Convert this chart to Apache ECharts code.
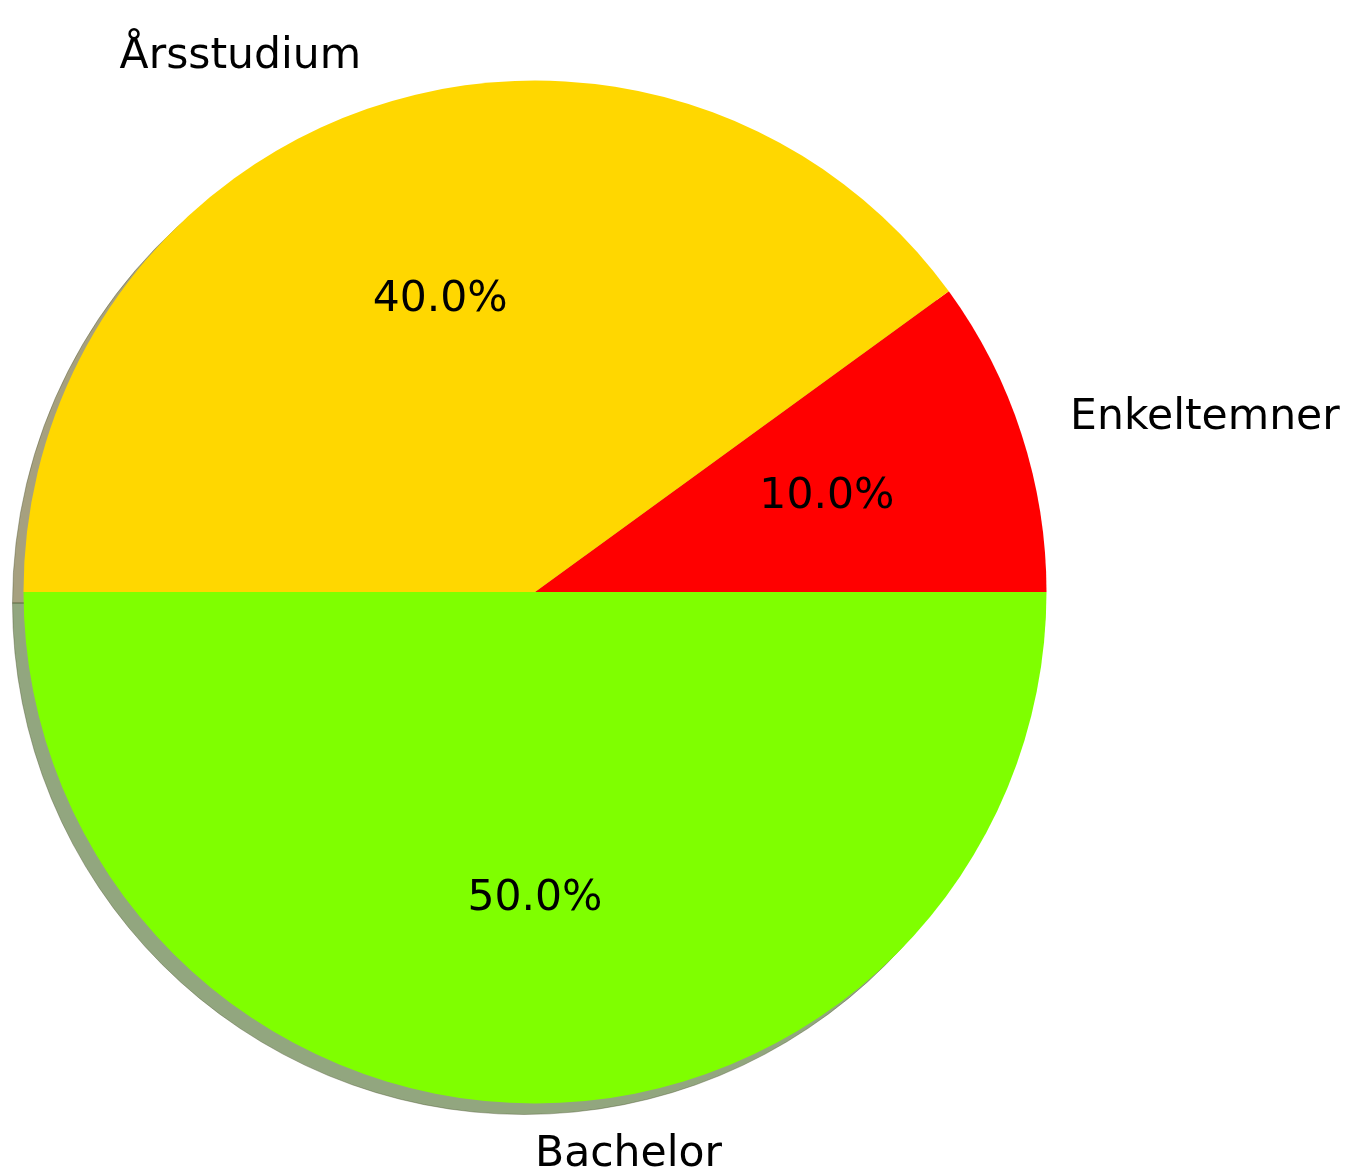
<!DOCTYPE html>
<html>
<head>
<meta charset="utf-8">
<script src="https://cdn.jsdelivr.net/npm/echarts@6/dist/echarts.min.js"></script>
<style>html,body{margin:0;padding:0;background:#fff;}#c{width:1347px;height:1172px;}</style>
</head>
<body>
<div id="c"></div>
<script>
const categories = ['Enkeltemner', 'Årsstudium', 'Bachelor'];
const values = [10, 40, 50];
const colors = ['#FF0000', '#FFD700', '#7FFF00'];
const shadowColors = ['rgba(77,0,0,0.5)', 'rgba(77,65,0,0.5)', 'rgba(38,77,0,0.5)'];

const CX = 535, CY = 592, R = 511.5;
const SHADOW_DX = -11, SHADOW_DY = 11;
const FONT = 'DejaVu Sans';
const FS = 42.5;

const total = values.reduce((a, b) => a + b, 0);
function midAngle(i) {
  let before = 0;
  for (let k = 0; k < i; k++) before += values[k];
  return (before + values[i] / 2) / total * 2 * Math.PI;
}

const chart = echarts.init(document.getElementById('c'), null, {renderer: 'canvas'});

const baseData = categories.map((n, i) => ({name: n, value: values[i]}));

chart.setOption({
  animation: false,
  backgroundColor: '#ffffff',
  series: [
    {
      type: 'pie',
      silent: true,
      center: [CX + SHADOW_DX, CY + SHADOW_DY],
      radius: R,
      startAngle: 0,
      clockwise: false,
      avoidLabelOverlap: false,
      label: {show: false},
      labelLine: {show: false},
      emphasis: {disabled: true},
      data: baseData.map((d, i) => ({...d, itemStyle: {color: shadowColors[i], borderWidth: 1, borderColor: 'rgba(60,70,30,0.35)'}}))
    },
    {
      type: 'pie',
      silent: true,
      center: [CX, CY],
      radius: R,
      startAngle: 0,
      clockwise: false,
      avoidLabelOverlap: false,
      emphasis: {disabled: true},
      labelLine: {show: false},
      label: {
        show: true,
        position: 'outside',
        formatter: '{b}',
        fontFamily: FONT,
        fontSize: FS,
        color: '#000'
      },
      labelLayout: function (p) {
        const a = midAngle(p.dataIndex);
        const c = Math.cos(a);
        return {
          x: CX + 1.1 * R * c,
          y: CY - 1.1 * R * Math.sin(a),
          align: c > -1e-6 ? 'left' : 'right',
          verticalAlign: 'middle'
        };
      },
      data: baseData.map((d, i) => ({...d, itemStyle: {color: colors[i], borderWidth: 0}}))
    },
    {
      type: 'pie',
      silent: true,
      center: [CX, CY],
      radius: R,
      startAngle: 0,
      clockwise: false,
      avoidLabelOverlap: false,
      emphasis: {disabled: true},
      labelLine: {show: false},
      label: {
        show: true,
        position: 'inside',
        formatter: function (p) { return (p.value / total * 100).toFixed(1) + '%'; },
        fontFamily: FONT,
        fontSize: FS,
        color: '#000'
      },
      labelLayout: function (p) {
        const a = midAngle(p.dataIndex);
        return {
          x: CX + 0.6 * R * Math.cos(a),
          y: CY - 0.6 * R * Math.sin(a),
          align: 'center',
          verticalAlign: 'middle'
        };
      },
      data: baseData.map((d, i) => ({...d, itemStyle: {color: 'rgba(0,0,0,0)', borderWidth: 0}}))
    }
  ]
});
</script>
</body>
</html>
